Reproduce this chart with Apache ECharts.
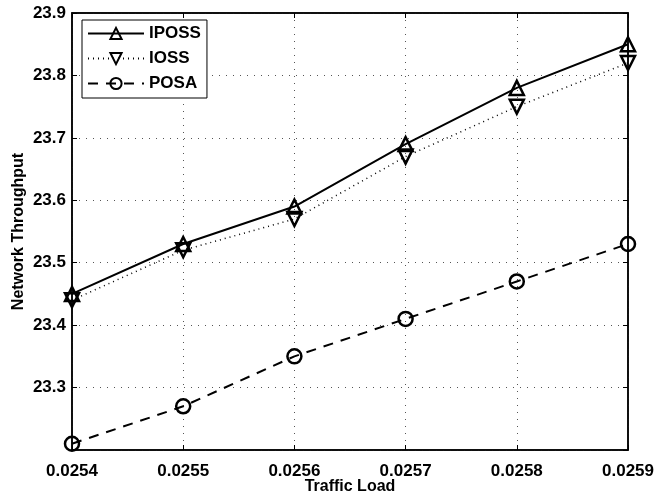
<!DOCTYPE html>
<html>
<head>
<meta charset="utf-8">
<script src="https://cdn.jsdelivr.net/npm/echarts@6/dist/echarts.min.js"></script>
<style>
  html, body { margin: 0; padding: 0; background: #fff; }
  #chart { width: 654px; height: 495px; }
</style>
</head>
<body>
<div id="chart"></div>
<script>
var loads = ['0.0254', '0.0255', '0.0256', '0.0257', '0.0258', '0.0259'];
var iposs = [23.45, 23.53, 23.59, 23.69, 23.78, 23.85];
var ioss = [23.44, 23.52, 23.57, 23.67, 23.75, 23.82];
var posa = [23.21, 23.27, 23.35, 23.41, 23.47, 23.53];

var chart = echarts.init(document.getElementById('chart'));
var font = 'Liberation Sans, Arial, sans-serif';

function mark(name, data, symbol, rotate, lineType, width) {
  return {
    name: name,
    type: 'line',
    data: data,
    symbol: symbol,
    symbolSize: 14,
    symbolRotate: rotate,
    showAllSymbol: true,
    lineStyle: { color: '#000', width: width, type: lineType },
    itemStyle: { color: 'rgba(0,0,0,0)', borderColor: '#000', borderWidth: 2.5 },
    emphasis: { disabled: true },
    animation: false
  };
}

var option = {
  backgroundColor: '#fff',
  grid: {
    left: 72, right: 26, top: 13, bottom: 45,
    outerBoundsMode: 'none', containLabel: false,
    show: true, borderColor: '#000', borderWidth: 1.5
  },
  legend: {
    orient: 'vertical',
    left: 82,
    top: 20,
    backgroundColor: '#fff',
    borderColor: '#000',
    borderWidth: 1,
    borderRadius: 0,
    padding: [5, 6, 6, 5],
    itemGap: 8,
    itemWidth: 56,
    itemHeight: 14,
    textStyle: { fontFamily: font, fontWeight: 'bold', fontSize: 17, color: '#000' },
    data: ['IPOSS', 'IOSS', 'POSA']
  },
  xAxis: [{
    type: 'category',
    data: loads,
    boundaryGap: false,
    name: 'Traffic Load',
    nameLocation: 'middle',
    nameGap: 29,
    nameMoveOverlap: false,
    nameTextStyle: { fontFamily: font, fontWeight: 'bold', fontSize: 16, color: '#000' },
    axisLine: { lineStyle: { color: '#000', width: 1.5 } },
    axisTick: { inside: true, length: 5, lineStyle: { color: '#000' } },
    axisLabel: { fontFamily: font, fontWeight: 'bold', fontSize: 17, color: '#000', margin: 13 },
    splitLine: { show: true, lineStyle: { color: '#555', width: 1, type: [1, 6] } }
  }, {
    type: 'category',
    data: loads,
    boundaryGap: false,
    position: 'top',
    axisLine: { lineStyle: { color: '#000', width: 1.5 } },
    axisTick: { inside: true, length: 5, lineStyle: { color: '#000' } },
    axisLabel: { show: false },
    splitLine: { show: false }
  }],
  yAxis: [{
    type: 'value',
    min: 23.2,
    max: 23.9,
    interval: 0.1,
    name: 'Network Throughput',
    nameLocation: 'middle',
    nameGap: 45,
    nameMoveOverlap: false,
    nameTextStyle: { fontFamily: font, fontWeight: 'bold', fontSize: 16, color: '#000' },
    axisLine: { show: true, lineStyle: { color: '#000', width: 1.5 } },
    axisTick: { show: true, inside: true, length: 5, lineStyle: { color: '#000' } },
    axisLabel: {
      fontFamily: font, fontWeight: 'bold', fontSize: 17, color: '#000', margin: 6,
      showMinLabel: false,
      formatter: function (v) { return v.toFixed(1); }
    },
    splitLine: { show: true, lineStyle: { color: '#555', width: 1, type: [1, 6] } }
  }, {
    type: 'value',
    min: 23.2,
    max: 23.9,
    interval: 0.1,
    position: 'right',
    axisLine: { show: true, lineStyle: { color: '#000', width: 1.5 } },
    axisTick: { show: true, inside: true, length: 5, lineStyle: { color: '#000' } },
    axisLabel: { show: false },
    splitLine: { show: false }
  }],
  series: [
    mark('IPOSS', iposs, 'triangle', 0, 'solid', 2),
    mark('IOSS', ioss, 'triangle', 180, [1, 4], 1.5),
    mark('POSA', posa, 'circle', 0, [10, 8], 2)
  ]
};
chart.setOption(option);
</script>
</body>
</html>
